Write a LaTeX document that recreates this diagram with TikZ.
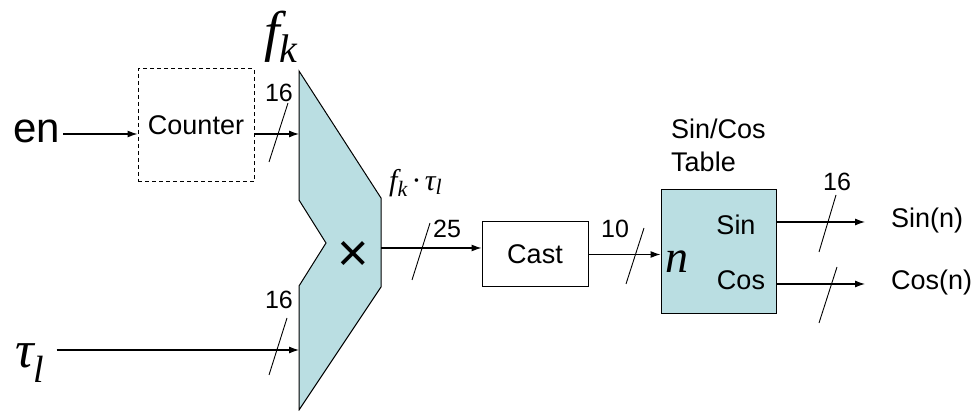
\documentclass[tikz,border=0pt]{standalone}
\usepackage{fontspec}
\setmainfont{Liberation Sans}
\newfontfamily\tms{Liberation Serif}
\usetikzlibrary{arrows.meta}
\definecolor{mulblue}{RGB}{186,222,226}
\newcommand\lowsub[3]{\raisebox{-#2}{\fontsize{#1}{#1}\selectfont #3}}
\begin{document}
\begin{tikzpicture}[x=1pt,y=-1pt,
  wire/.style={line width=1.1pt, -{Latex[length=10pt,width=7pt]}},
  slash/.style={line width=0.9pt},
  lbl/.style={inner sep=0pt, font=\fontsize{27}{33}\selectfont},
  num/.style={inner sep=0pt, font=\fontsize{25}{30}\selectfont},
  blockblue/.style={draw, line width=1pt, fill=mulblue},
  mathlbl/.style={inner sep=0pt, font=\tms\itshape\fontsize{#1}{#1}\selectfont},
]
\useasboundingbox (0,0) rectangle (978,411);

% multiplier
\draw[blockblue] (299,71) -- (381,198) -- (381,287) -- (299,410) -- (299,286) -- (326,243) -- (299,200) -- cycle;
\coordinate (muxA) at (299,134);
\coordinate (muxB) at (299,350);
\coordinate (muxO) at (381,248);
\coordinate (enY) at (0,134);
\node[inner sep=0pt, font=\fontsize{54}{58}\selectfont] (times) at (353,256) {×};

% inputs
\node[inner sep=0pt, font=\fontsize{42}{48}\selectfont, anchor=base east] (en) at (60,143) {en};
\node[draw, dash pattern=on 4pt off 3pt, line width=1pt, minimum width=116pt, minimum height=113pt, inner sep=0pt, lbl] (counter) at (196,125.5) {\raisebox{-5pt}{Counter}};
\draw[wire, shorten <=3pt] (en.east |- enY) -- (counter.west |- enY);
\draw[wire] (counter.east |- enY) -- (muxA);
\draw[slash] (269,162) -- (288,103);
\node[num] (n16a) at (279,93) {16};
\node[mathlbl=56, anchor=base] (fk) at (281,51) {f\lowsub{40}{12pt}{k}};

\node[mathlbl=52, anchor=base west] (tau) at (15,368) {τ\lowsub{38}{15pt}{l}};
\draw[wire] (tau.east |- muxB) ++(12,0) -- (muxB);
\draw[slash] (269,375) -- (287,318);
\node[num] (n16b) at (279,300) {16};

% product
\node[mathlbl=30, anchor=base west] (prod) at (389,191) {f\lowsub{22}{6pt}{k}\,·\,τ\lowsub{22}{4pt}{l}};
\node[draw, line width=1pt, minimum width=106pt, minimum height=65pt, inner sep=0pt, lbl] (cast) at (535,254.5) {Cast};
\draw[wire] (muxO) -- (cast.west |- muxO);
\draw[slash] (412,280) -- (430,223);
\node[num] (n25) at (447,229) {25};

% table
\node[blockblue, minimum width=115pt, minimum height=124pt, inner sep=0pt] (table) at (718.5,252) {};
\node[lbl, align=left, anchor=north west] (tbl) at (671,119) {Sin/Cos\\Table};
\draw[wire] (cast.east) -- (table.west |- cast.east);
\draw[slash] (626,284) -- (644,228);
\node[num] (n10) at (615,229) {10};
\node[lbl] (sin) at (736,225) {Sin};
\node[lbl] (cos) at (741,280) {Cos};
\node[mathlbl=46] (n) at (677,262) {n};

% outputs
\node[lbl, anchor=west] (sinn) at (891,221) {Sin(n)};
\node[lbl, anchor=west] (cosn) at (891,283) {Cos(n)};
\draw[wire] (table.east |- 0,222) -- ([xshift=-26pt]sinn.west |- 0,222);
\draw[wire] (table.east |- 0,284) -- ([xshift=-26pt]cosn.west |- 0,284);
\draw[slash] (819,252) -- (836,195);
\node[num] (n16c) at (837,182) {16};
\draw[slash] (819,323) -- (837,267);
\end{tikzpicture}
\end{document}
